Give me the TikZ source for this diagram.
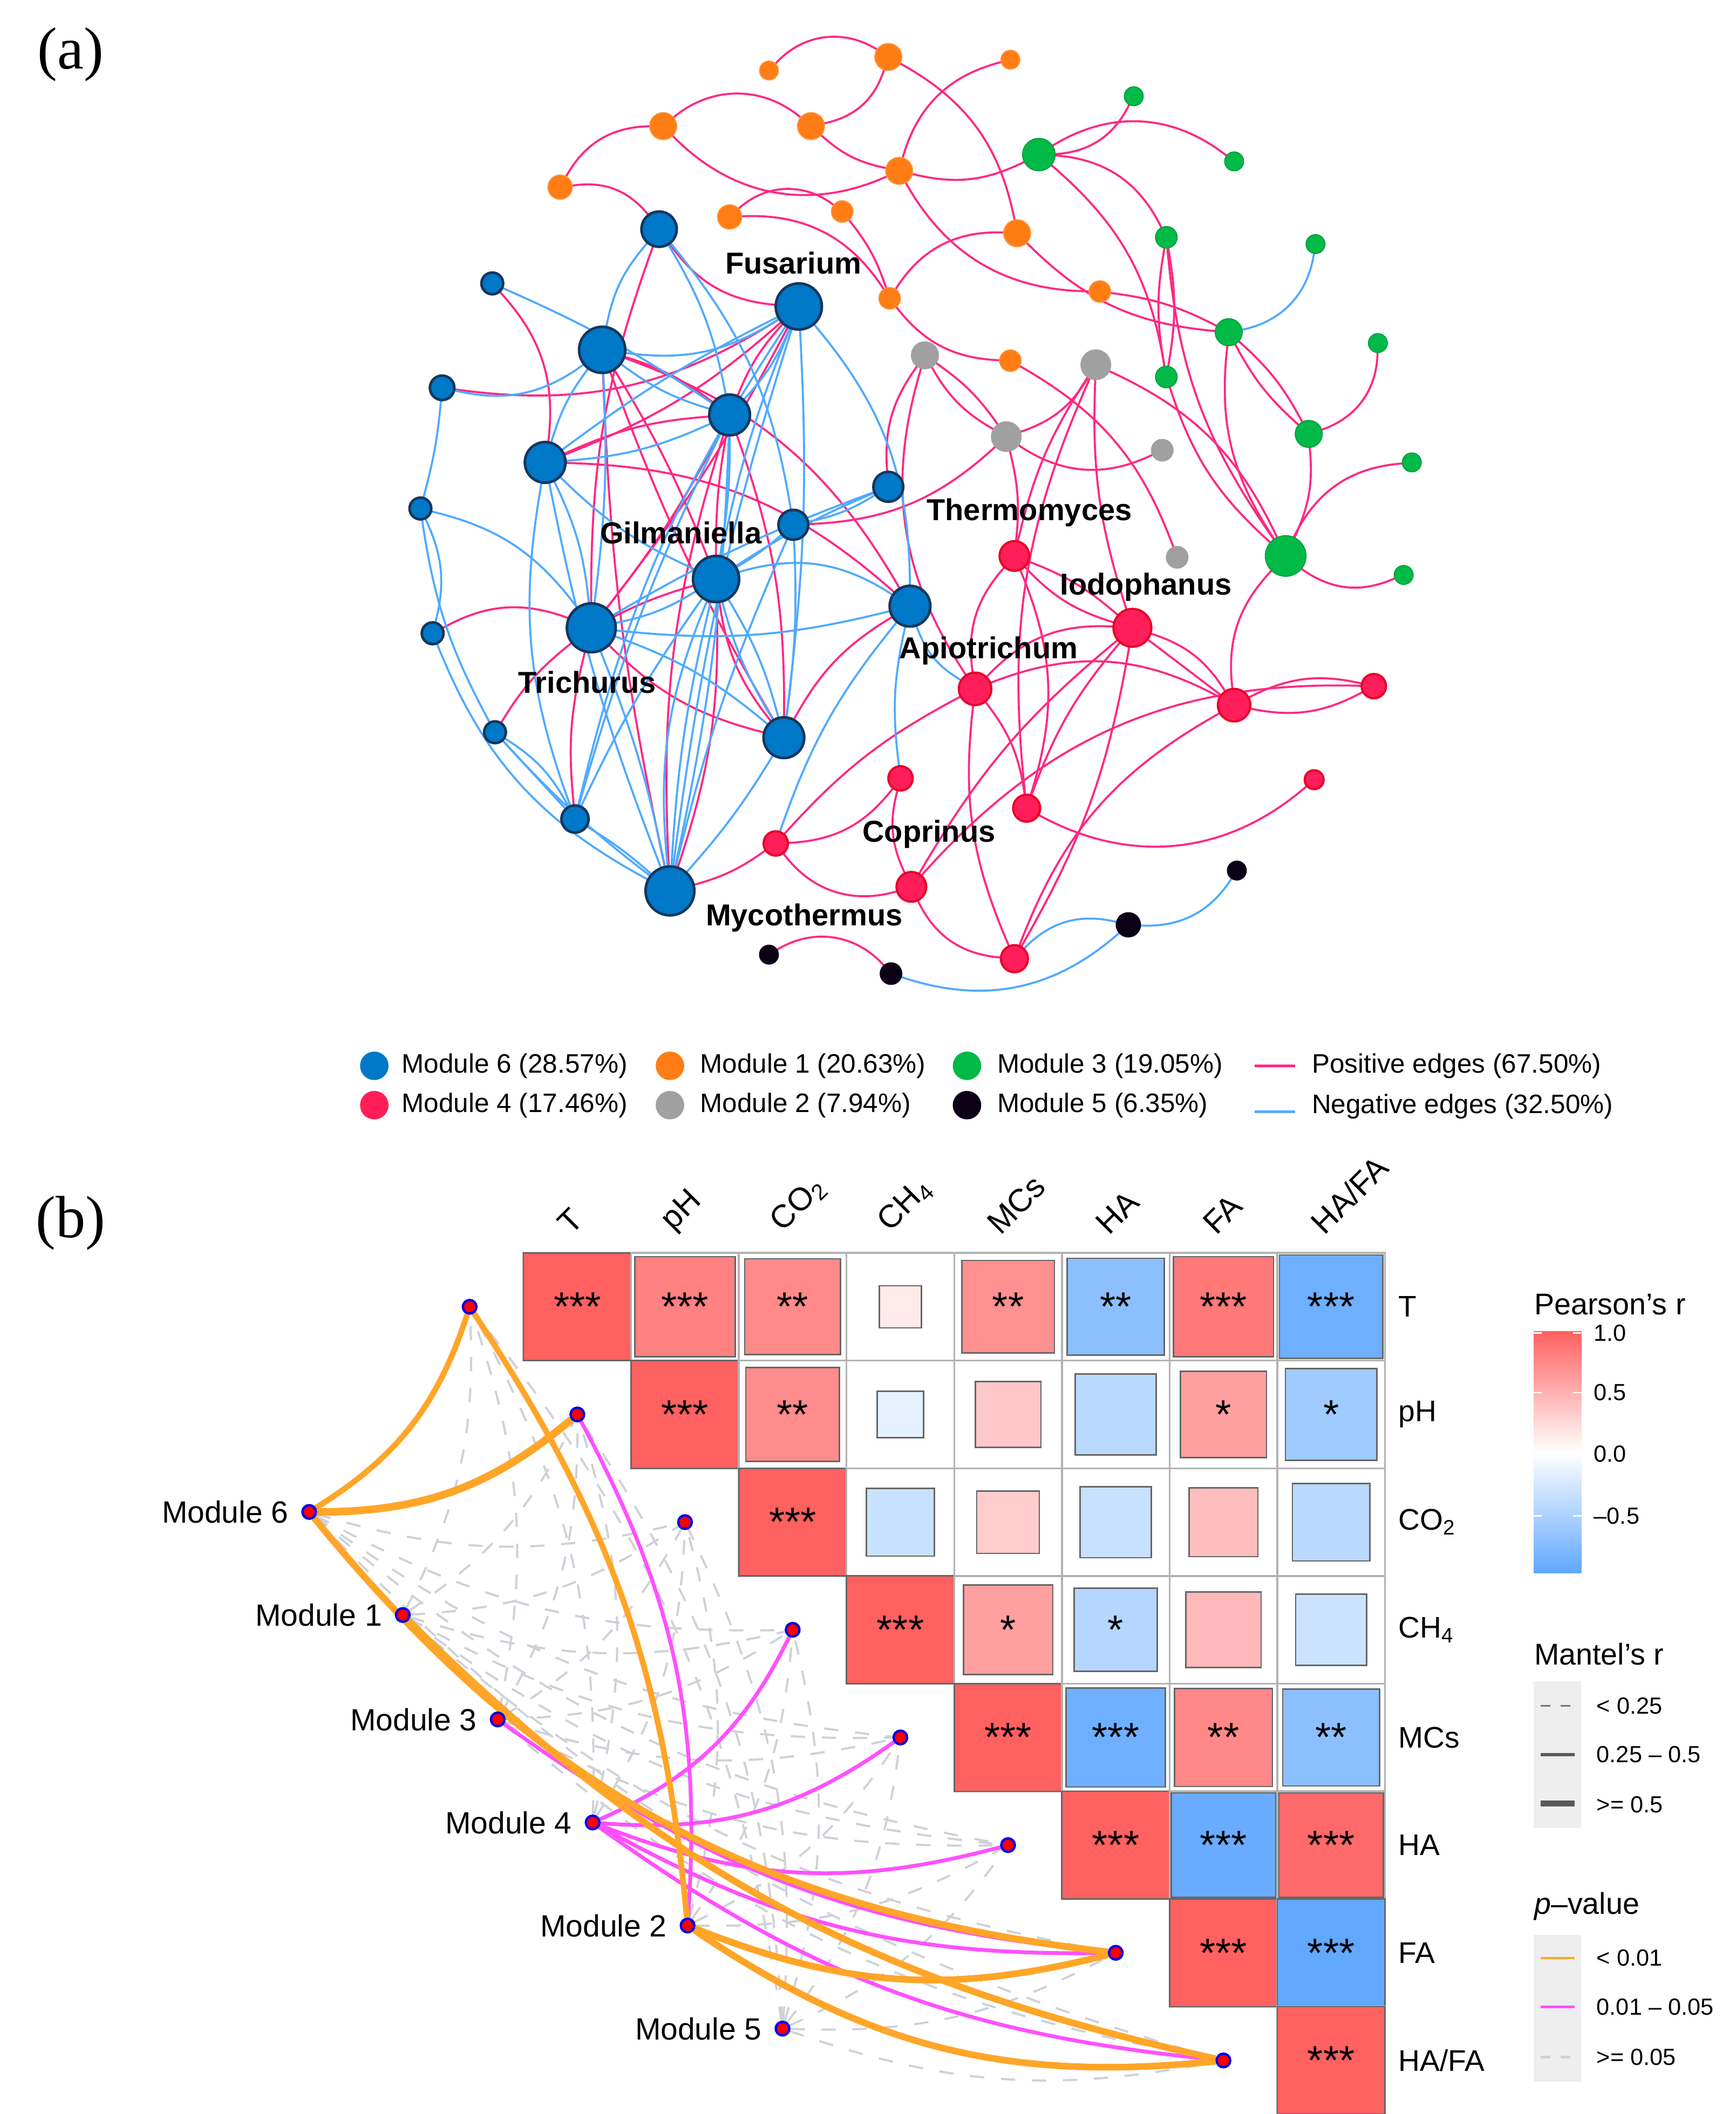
\documentclass[tikz,border=0pt]{standalone}
\usepackage{fontspec}
\setmainfont{Liberation Sans}
\newfontfamily\seriffont{Liberation Serif}
\usetikzlibrary{backgrounds}
\definecolor{cBlue}{RGB}{0,120,200}
\definecolor{cBlueB}{RGB}{22,55,92}
\definecolor{cOrange}{RGB}{255,125,20}
\definecolor{cGreen}{RGB}{0,185,70}
\definecolor{cGrey}{RGB}{160,160,160}
\definecolor{cRed}{RGB}{255,30,90}
\definecolor{cRedB}{RGB}{232,0,40}
\definecolor{cBlack}{RGB}{12,0,22}
\definecolor{ePos}{RGB}{255,40,130}
\definecolor{eNeg}{RGB}{80,170,255}
\definecolor{hR}{RGB}{255,97,97}
\definecolor{hB}{RGB}{97,168,255}
\definecolor{mOr}{RGB}{255,165,40}
\definecolor{mMag}{RGB}{255,80,255}
\definecolor{mGr}{RGB}{206,209,215}
\definecolor{keybg}{RGB}{238,238,238}
\newcommand{\fnet}{\fontsize{12.7}{14}\selectfont\bfseries}
\newcommand{\fleg}{\fontsize{11.2}{13}\selectfont}
\newcommand{\fpan}{\fontsize{25}{28}\selectfont\seriffont}
\newcommand{\fmod}{\fontsize{12.9}{15}\selectfont}
\newcommand{\fvar}{\fontsize{12.5}{15}\selectfont}
\newcommand{\fcol}{\fontsize{13.5}{15}\selectfont}
\newcommand{\fstar}{\fontsize{17}{18}\selectfont}
\newcommand{\fltit}{\fontsize{12.6}{15}\selectfont}
\newcommand{\flkey}{\fontsize{9.8}{12}\selectfont}
\tikzset{
 nb/.style={circle,fill=cBlue,draw=cBlueB,line width=1.1pt,inner sep=0pt,outer sep=0pt},
 no/.style={circle,fill=cOrange,draw=cOrange!80!white,line width=0.4pt,inner sep=0pt,outer sep=0pt},
 ng/.style={circle,fill=cGreen,draw=cGreen!85!black,line width=0.4pt,inner sep=0pt,outer sep=0pt},
 ny/.style={circle,fill=cGrey,draw=cGrey,line width=0.4pt,inner sep=0pt,outer sep=0pt},
 nr/.style={circle,fill=cRed,draw=cRedB,line width=0.9pt,inner sep=0pt,outer sep=0pt},
 nk/.style={circle,fill=cBlack,draw=cBlack,line width=0.4pt,inner sep=0pt,outer sep=0pt},
 pedge/.style={draw=ePos,line width=0.85pt},
 nedge/.style={draw=eNeg,line width=0.85pt},
 netlab/.style={font=\fnet,inner sep=0pt},
 legtxt/.style={font=\fleg,anchor=west,inner sep=0pt},
 gridc/.style={draw=black!30,line width=0.8pt},
 sqc/.style={draw=black!60,line width=0.6pt},
 starsty/.style={font=\fstar,inner sep=0pt},
 varlab/.style={font=\fvar,inner sep=0pt},
 collab/.style={font=\fcol,inner sep=0pt,rotate=45,anchor=south west},
 mpt/.style={circle,fill=red,draw=blue!90!black,line width=1pt,minimum size=0.2cm,inner sep=0pt},
 mgrey/.style={draw=mGr,line width=0.9pt,dash pattern=on 6pt off 7pt},
 morange/.style={draw=mOr},
 mmag/.style={draw=mMag,line width=1.6pt},
 keytxt/.style={font=\flkey,anchor=west,inner sep=0pt},
}
\newcommand{\nn}[5]{\node[#5,minimum size=#4*0.04cm] (#1) at (#2,#3) {};}
\newcommand{\ep}[3]{\draw[pedge] (#1) to[#3] (#2);}
\newcommand{\en}[3]{\draw[nedge] (#1) to[#3] (#2);}
\newcommand{\hcell}[5]{%
  \pgfmathsetmacro{\hcx}{425.7+79.4*#2}%
  \pgfmathsetmacro{\hcy}{963.7+79.4*#1}%
  \pgfmathsetmacro{\hhs}{39.7*#3}%
  \draw[gridc] (\hcx-39.7,\hcy-39.7) rectangle (\hcx+39.7,\hcy+39.7);
  \draw[sqc,fill=#4] (\hcx-\hhs,\hcy-\hhs) rectangle (\hcx+\hhs,\hcy+\hhs);
  \node[starsty] (hc#1#2) at (\hcx,\hcy) {#5};
}
\newcommand{\mg}[2]{\draw[mgrey] (#1) to[bend right=15] (#2);}
\begin{document}
\begin{tikzpicture}[x=0.02cm,y=-0.02cm]
\useasboundingbox (0,0) rectangle (1280,1559);
% ---------------- panel labels
\node[font=\fpan,inner sep=0pt] (pa) at (52,40) {(a)};
\node[font=\fpan,inner sep=0pt] (pb) at (52,902) {(b)};
% ---------------- network nodes
\nn{O1}{567}{52}{7}{no}
\nn{O2}{655}{42}{10}{no}
\nn{O3}{745}{44}{7}{no}
\nn{O4}{489}{93}{10}{no}
\nn{O5}{598}{93}{10}{no}
\nn{O6}{663}{126}{10}{no}
\nn{O7}{413}{138}{9}{no}
\nn{O8}{538}{160}{9}{no}
\nn{O9}{621}{156}{8}{no}
\nn{O10}{750}{172}{10}{no}
\nn{O11}{656}{220}{8}{no}
\nn{O12}{811}{215}{8}{no}
\nn{O13}{745}{266}{8}{no}
\nn{G1}{836}{71}{7}{ng}
\nn{G2}{766}{114}{12}{ng}
\nn{G3}{910}{119}{7}{ng}
\nn{G4}{860}{175}{8}{ng}
\nn{G5}{970}{180}{7}{ng}
\nn{G6}{906}{245}{10}{ng}
\nn{G7}{1016}{253}{7}{ng}
\nn{G8}{860}{278}{8}{ng}
\nn{G9}{965}{320}{10}{ng}
\nn{G10}{1041}{341}{7}{ng}
\nn{G11}{948}{410}{15}{ng}
\nn{G12}{1035}{424}{7}{ng}
\nn{Y1}{682}{262}{10}{ny}
\nn{Y2}{808}{269}{11}{ny}
\nn{Y3}{742}{322}{11}{ny}
\nn{Y4}{857}{332}{8}{ny}
\nn{Y5}{868}{411}{8}{ny}
\nn{B1}{486}{169}{13}{nb}
\nn{B2}{363}{209}{8}{nb}
\nn{B3}{589}{226}{17}{nb}
\nn{B4}{444}{258}{17}{nb}
\nn{B5}{326}{286}{9}{nb}
\nn{B6}{538}{306}{15}{nb}
\nn{B7}{402}{341}{15}{nb}
\nn{B8}{655}{359}{11}{nb}
\nn{B9}{310}{375}{8}{nb}
\nn{B10}{585}{387}{11}{nb}
\nn{B11}{528}{427}{17}{nb}
\nn{B12}{319}{467}{8}{nb}
\nn{B13}{436}{463}{18}{nb}
\nn{B14}{671}{447}{15}{nb}
\nn{B15}{578}{544}{15}{nb}
\nn{B16}{365}{540}{8}{nb}
\nn{B17}{424}{604}{10}{nb}
\nn{B18}{494}{657}{18}{nb}
\nn{R1}{748}{410}{11}{nr}
\nn{R2}{835}{463}{14}{nr}
\nn{R3}{719}{508}{12}{nr}
\nn{R4}{910}{520}{12}{nr}
\nn{R5}{1013}{506}{9}{nr}
\nn{R6}{664}{574}{9}{nr}
\nn{R7}{969}{575}{7}{nr}
\nn{R8}{757}{596}{10}{nr}
\nn{R9}{572}{622}{9}{nr}
\nn{R10}{672}{654}{11}{nr}
\nn{R11}{748}{707}{10}{nr}
\nn{K1}{912}{642}{7}{nk}
\nn{K2}{832}{682}{9}{nk}
\nn{K3}{567}{704}{7}{nk}
\nn{K4}{657}{718}{8}{nk}
% ---------------- network edges
\begin{pgfonlayer}{background}
\ep{O1}{O2}{bend left=40}
\ep{O2}{O5}{bend left=30}
\ep{O2}{O10}{bend left=25}
\ep{O3}{O6}{bend right=30}
\ep{O4}{O5}{bend left=40}
\ep{O4}{O7}{bend right=30}
\ep{O4}{O6}{bend right=35}
\ep{O5}{O6}{bend right=15}
\ep{O6}{G2}{bend right=20}
\ep{O6}{O12}{bend right=30}
\ep{O7}{B1}{bend left=30}
\ep{O8}{O9}{bend left=40}
\ep{O8}{O11}{bend left=30}
\ep{O9}{O11}{bend left=10}
\ep{O11}{O10}{bend left=30}
\ep{O11}{O13}{bend right=25}
\ep{O10}{G6}{bend right=20}
\ep{O12}{G6}{bend left=10}
\ep{O13}{Y5}{bend left=20}
\ep{G1}{G2}{bend left=30}
\ep{G2}{G3}{bend left=35}
\ep{G2}{G4}{bend left=30}
\ep{G2}{G8}{bend left=20}
\ep{G4}{G8}{bend left=10}
\ep{G4}{G8}{bend right=10}
\ep{G4}{G11}{bend right=15}
\ep{G8}{G11}{bend right=15}
\ep{G6}{G9}{bend left=10}
\ep{G6}{G9}{bend right=10}
\ep{G6}{G11}{bend right=20}
\ep{G7}{G9}{bend left=35}
\ep{G9}{G11}{bend left=15}
\ep{G10}{G11}{bend right=30}
\ep{G12}{G11}{bend left=30}
\ep{Y2}{G11}{bend left=20}
\ep{R4}{G11}{bend left=25}
\ep{Y1}{Y3}{bend left=10}
\ep{Y1}{Y3}{bend right=15}
\ep{Y2}{Y3}{bend left=20}
\ep{Y3}{Y4}{bend right=30}
\ep{Y3}{R1}{bend left=10}
\ep{Y3}{B10}{bend left=20}
\ep{Y2}{R1}{bend right=10}
\ep{Y2}{R2}{bend right=10}
\ep{Y2}{R8}{bend right=15}
\ep{Y1}{R3}{bend right=25}
\ep{Y1}{B8}{bend right=20}
\ep{R1}{R2}{bend left=10}
\ep{R1}{R2}{bend right=15}
\ep{R1}{R3}{bend right=25}
\ep{R1}{R8}{bend left=20}
\ep{R2}{R3}{bend right=25}
\ep{R2}{R4}{bend left=20}
\ep{R2}{R4}{bend left=0}
\ep{R2}{R8}{bend right=10}
\ep{R2}{R10}{bend right=10}
\ep{R2}{R11}{bend left=10}
\ep{R3}{R4}{bend left=25}
\ep{R3}{R8}{bend left=15}
\ep{R3}{R11}{bend right=15}
\ep{R4}{R5}{bend left=20}
\ep{R4}{R5}{bend right=20}
\ep{R5}{R10}{bend right=25}
\ep{R4}{R11}{bend right=20}
\ep{R6}{R10}{bend right=20}
\ep{R6}{R9}{bend left=25}
\ep{R8}{R7}{bend right=35}
\ep{R10}{R11}{bend right=30}
\ep{R9}{R10}{bend right=35}
\ep{R9}{B18}{bend left=10}
\ep{R9}{R3}{bend left=10}
\ep{K3}{K4}{bend left=40}
\ep{B1}{B3}{bend right=25}
\ep{B1}{B13}{bend right=10}
\ep{B2}{B7}{bend left=25}
\ep{B3}{B5}{bend left=20}
\ep{B3}{B6}{bend right=10}
\ep{B3}{B7}{bend left=10}
\ep{B3}{B13}{bend left=5}
\ep{B4}{B6}{bend left=10}
\ep{B4}{B11}{bend left=5}
\ep{B4}{B15}{bend right=5}
\ep{B4}{B18}{bend right=5}
\ep{B4}{B14}{bend left=20}
\ep{B6}{B7}{bend right=10}
\ep{B6}{B11}{bend right=5}
\ep{B6}{B13}{bend left=5}
\ep{B6}{B15}{bend left=10}
\ep{B6}{B18}{bend right=10}
\ep{B7}{B14}{bend left=20}
\ep{B12}{B13}{bend left=25}
\ep{B13}{B11}{bend left=5}
\ep{B13}{B15}{bend right=15}
\ep{B13}{B16}{bend right=10}
\ep{B13}{B17}{bend right=10}
\ep{B11}{B15}{bend right=15}
\ep{B11}{B18}{bend left=10}
\ep{B14}{B15}{bend right=15}
\en{G5}{G6}{bend left=35}
\en{R3}{B14}{bend left=20}
\en{R6}{B14}{bend left=10}
\en{R9}{B14}{bend left=10}
\en{R11}{K2}{bend left=30}
\en{K1}{K2}{bend left=30}
\en{K4}{K2}{bend right=30}
\en{B1}{B4}{bend right=15}
\en{B1}{B6}{bend left=10}
\en{B1}{B10}{bend left=15}
\en{B2}{B6}{bend left=5}
\en{B3}{B4}{bend left=20}
\en{B3}{B6}{bend left=10}
\en{B3}{B11}{bend right=5}
\en{B3}{B15}{bend left=5}
\en{B3}{B18}{bend right=5}
\en{B3}{B14}{bend left=20}
\en{B3}{B17}{bend right=10}
\en{B3}{B7}{bend right=5}
\en{B4}{B5}{bend left=25}
\en{B4}{B6}{bend right=10}
\en{B4}{B7}{bend right=10}
\en{B4}{B13}{bend left=5}
\en{B5}{B9}{bend left=5}
\en{B6}{B7}{bend left=10}
\en{B6}{B11}{bend left=5}
\en{B6}{B18}{bend left=5}
\en{B6}{B17}{bend right=5}
\en{B7}{B13}{bend left=10}
\en{B7}{B17}{bend right=15}
\en{B7}{B11}{bend right=10}
\en{B7}{B18}{bend right=5}
\en{B9}{B12}{bend left=20}
\en{B9}{B16}{bend right=10}
\en{B9}{B13}{bend left=20}
\en{B12}{B18}{bend right=20}
\en{B13}{B11}{bend right=10}
\en{B13}{B14}{bend right=10}
\en{B13}{B15}{bend left=10}
\en{B13}{B18}{bend left=5}
\en{B11}{B10}{bend right=5}
\en{B11}{B8}{bend left=5}
\en{B11}{B14}{bend left=25}
\en{B11}{B15}{bend left=8}
\en{B11}{B15}{bend right=8}
\en{B11}{B18}{bend right=5}
\en{B11}{B18}{bend right=14}
\en{B11}{B17}{bend right=5}
\en{B10}{B8}{bend right=10}
\en{B10}{B18}{bend right=5}
\en{B10}{B15}{bend left=5}
\en{B8}{B13}{bend right=5}
\en{B16}{B17}{bend left=0}
\en{B16}{B17}{bend left=15}
\en{B16}{B18}{bend right=5}
\en{B17}{B18}{bend left=5}
\en{B15}{B18}{bend left=5}
\end{pgfonlayer}
% ---------------- network labels
\node[netlab] (lFus) at (585,194) {Fusarium};
\node[netlab] (lGil) at (502,393) {Gilmaniella};
\node[netlab] (lThe) at (759,378) {Thermomyces};
\node[netlab] (lIod) at (845,433) {Iodophanus};
\node[netlab] (lTri) at (433,503) {Trichurus};
\node[netlab] (lApi) at (729,480) {Apiotrichum};
\node[netlab] (lCop) at (685,615) {Coprinus};
\node[netlab] (lMyc) at (593,677) {Mycothermus};
% ---------------- legend (a)
\node[circle,fill=cBlue,minimum size=0.42cm,inner sep=0pt] (lg6) at (276,786) {};
\node[circle,fill=cRed,minimum size=0.42cm,inner sep=0pt] (lg4) at (276,815) {};
\node[circle,fill=cOrange,minimum size=0.42cm,inner sep=0pt] (lg1) at (494,786) {};
\node[circle,fill=cGrey,minimum size=0.42cm,inner sep=0pt] (lg2) at (494,815) {};
\node[circle,fill=cGreen,minimum size=0.42cm,inner sep=0pt] (lg3) at (713,786) {};
\node[circle,fill=cBlack,minimum size=0.42cm,inner sep=0pt] (lg5) at (713,815) {};
\node[legtxt] (lt6) at (296,786) {Module 6 (28.57\%)};
\node[legtxt] (lt4) at (296,815) {Module 4 (17.46\%)};
\node[legtxt] (lt1) at (516,786) {Module 1 (20.63\%)};
\node[legtxt] (lt2) at (516,815) {Module 2 (7.94\%)};
\node[legtxt] (lt3) at (735,786) {Module 3 (19.05\%)};
\node[legtxt] (lt5) at (735,815) {Module 5 (6.35\%)};
\coordinate (lpa) at (925,786); \coordinate (lpb) at (955,786);
\coordinate (lna) at (925,820); \coordinate (lnb) at (955,820);
\draw[pedge,line width=1.2pt] (lpa) -- (lpb);
\draw[nedge,line width=1.2pt] (lna) -- (lnb);
\node[legtxt] (ltp) at (967,786) {Positive edges (67.50\%)};
\node[legtxt] (ltn) at (967,816) {Negative edges (32.50\%)};
% ---------------- heatmap (b)
\hcell{0}{0}{1}{hR}{***}
\hcell{0}{1}{0.93}{hR!80!white}{***}
\hcell{0}{2}{0.89}{hR!74!white}{**}
\hcell{0}{3}{0.39}{hR!13!white}{}
\hcell{0}{4}{0.86}{hR!70!white}{**}
\hcell{0}{5}{0.9}{hB!73!white}{**}
\hcell{0}{6}{0.93}{hR!85!white}{***}
\hcell{0}{7}{0.96}{hB!92!white}{***}
\hcell{1}{1}{1}{hR}{***}
\hcell{1}{2}{0.87}{hR!73!white}{**}
\hcell{1}{3}{0.43}{hB!16!white}{}
\hcell{1}{4}{0.61}{hR!35!white}{}
\hcell{1}{5}{0.75}{hB!44!white}{}
\hcell{1}{6}{0.8}{hR!60!white}{*}
\hcell{1}{7}{0.85}{hB!60!white}{*}
\hcell{2}{2}{1}{hR}{***}
\hcell{2}{3}{0.63}{hB!35!white}{}
\hcell{2}{4}{0.58}{hR!32!white}{}
\hcell{2}{5}{0.66}{hB!35!white}{}
\hcell{2}{6}{0.64}{hR!41!white}{}
\hcell{2}{7}{0.72}{hB!44!white}{}
\hcell{3}{3}{1}{hR}{***}
\hcell{3}{4}{0.83}{hR!60!white}{*}
\hcell{3}{5}{0.77}{hB!47!white}{*}
\hcell{3}{6}{0.7}{hR!44!white}{}
\hcell{3}{7}{0.66}{hB!32!white}{}
\hcell{4}{4}{1}{hR}{***}
\hcell{4}{5}{0.92}{hB!92!white}{***}
\hcell{4}{6}{0.91}{hR!76!white}{**}
\hcell{4}{7}{0.9}{hB!73!white}{**}
\hcell{5}{5}{1}{hR}{***}
\hcell{5}{6}{0.97}{hB!95!white}{***}
\hcell{5}{7}{0.97}{hR!95!white}{***}
\hcell{6}{6}{1}{hR}{***}
\hcell{6}{7}{1}{hB}{***}
\hcell{7}{7}{1}{hR}{***}
% column labels
\node[collab] (cT) at (421,912) {T};
\node[collab] (cpH) at (500,912) {pH};
\node[collab] (cCO) at (580,912) {CO\textsubscript{2}};
\node[collab] (cCH) at (659,912) {CH\textsubscript{4}};
\node[collab] (cMC) at (738,912) {MCs};
\node[collab] (cHA) at (818,912) {HA};
\node[collab] (cFA) at (897,912) {FA};
\node[collab] (cHF) at (977,912) {HA/FA};
% row labels
\node[varlab,anchor=west] (rT) at (1031,963.7) {T};
\node[varlab,anchor=west] (rpH) at (1031,1043.1) {pH};
\node[varlab,anchor=west] (rCO) at (1031,1122.5) {CO\textsubscript{2}};
\node[varlab,anchor=west] (rCH) at (1031,1201.9) {CH\textsubscript{4}};
\node[varlab,anchor=west] (rMC) at (1031,1281.3) {MCs};
\node[varlab,anchor=west] (rHA) at (1031,1360.7) {HA};
\node[varlab,anchor=west] (rFA) at (1031,1440.1) {FA};
\node[varlab,anchor=west] (rHF) at (1031,1519.5) {HA/FA};
% ---------------- mantel points
\node[mpt] (eT) at (346.3,963.7) {};
\node[mpt] (epH) at (425.7,1043.1) {};
\node[mpt] (eCO) at (505.1,1122.5) {};
\node[mpt] (eCH) at (584.5,1201.9) {};
\node[mpt] (eMC) at (663.9,1281.3) {};
\node[mpt] (eHA) at (743.3,1360.7) {};
\node[mpt] (eFA) at (822.7,1440.1) {};
\node[mpt] (eHF) at (902.1,1519.5) {};
\node[mpt] (m6) at (228,1115) {};
\node[mpt] (m1) at (297,1191) {};
\node[mpt] (m3) at (367,1268) {};
\node[mpt] (m4) at (437,1344) {};
\node[mpt] (m2) at (507,1420) {};
\node[mpt] (m5) at (577,1496) {};
\node[font=\fmod,anchor=east,inner sep=0pt] (lm6) at (213,1115) {Module 6};
\node[font=\fmod,anchor=east,inner sep=0pt] (lm1) at (282,1191) {Module 1};
\node[font=\fmod,anchor=east,inner sep=0pt] (lm3) at (352,1268) {Module 3};
\node[font=\fmod,anchor=east,inner sep=0pt] (lm4) at (422,1344) {Module 4};
\node[font=\fmod,anchor=east,inner sep=0pt] (lm2) at (492,1420) {Module 2};
\node[font=\fmod,anchor=east,inner sep=0pt] (lm5) at (562,1496) {Module 5};
\begin{pgfonlayer}{background}
\mg{m6}{eCO}\mg{m6}{eCH}\mg{m6}{eMC}\mg{m6}{eHA}\mg{m6}{eHF}
\mg{m1}{eT}\mg{m1}{epH}\mg{m1}{eCO}\mg{m1}{eCH}\mg{m1}{eMC}\mg{m1}{eHA}\mg{m1}{eFA}
\mg{m3}{eT}\mg{m3}{epH}\mg{m3}{eCO}\mg{m3}{eCH}\mg{m3}{eMC}\mg{m3}{eHA}\mg{m3}{eHF}
\mg{m4}{eT}\mg{m4}{epH}\mg{m4}{eCO}
\mg{m2}{eCO}\mg{m2}{eCH}\mg{m2}{eMC}\mg{m2}{eHA}
\mg{m5}{eT}\mg{m5}{epH}\mg{m5}{eCO}\mg{m5}{eCH}\mg{m5}{eMC}\mg{m5}{eHA}\mg{m5}{eFA}\mg{m5}{eHF}
\draw[mmag] (m3) to[bend right=15] (eFA);
\draw[mmag] (m4) to[bend right=20] (eCH);
\draw[mmag] (m4) to[bend right=20] (eMC);
\draw[mmag] (m4) to[bend right=18] (eHA);
\draw[mmag] (m4) to[bend right=15] (eFA);
\draw[mmag] (m4) to[bend right=15] (eHF);
\draw[mmag] (m2) to[bend right=16] (epH);
\draw[morange,line width=2.4pt] (m6) to[bend right=20] (eT);
\draw[morange,line width=3.2pt] (m6) to[bend right=20] (epH);
\draw[morange,line width=2.4pt] (m2) to[bend right=14] (eT);
\draw[morange,line width=2.8pt] (m6) to[bend right=22] (eFA);
\draw[morange,line width=2.8pt] (m1) to[bend right=16] (eHF);
\draw[morange,line width=2.8pt] (m2) to[bend right=18] (eFA);
\draw[morange,line width=2.8pt] (m2) to[bend right=20] (eHF);
\end{pgfonlayer}
% ---------------- legend (b)
\node[font=\fltit,anchor=west,inner sep=0pt] (tPr) at (1131,962) {Pearson's r};
\shade[top color=hR,bottom color=hB,middle color=white] (1131,982) rectangle (1166,1160);
\foreach \ty in {983,1027,1072,1118}{
  \draw[white,line width=0.6pt] (1131,\ty) -- (1137,\ty);
  \draw[white,line width=0.6pt] (1160,\ty) -- (1166,\ty);
}
\node[keytxt] (k10) at (1175,983) {1.0};
\node[keytxt] (k05) at (1175,1027) {0.5};
\node[keytxt] (k00) at (1175,1072) {0.0};
\node[keytxt] (km05) at (1175,1118) {–0.5};
\node[font=\fltit,anchor=west,inner sep=0pt] (tMr) at (1131,1220) {Mantel's r};
\fill[keybg] (1131,1240) rectangle (1166,1348);
\coordinate (ka1) at (1136,1258); \coordinate (kb1) at (1161,1258);
\coordinate (ka2) at (1136,1294); \coordinate (kb2) at (1161,1294);
\coordinate (ka3) at (1136,1330); \coordinate (kb3) at (1161,1330);
\draw[black!55,line width=0.7pt,dash pattern=on 4pt off 4.5pt] (ka1) -- (kb1);
\draw[black!65,line width=1.3pt] (ka2) -- (kb2);
\draw[black!65,line width=2.6pt] (ka3) -- (kb3);
\node[keytxt] (kt1) at (1177,1258) {< 0.25};
\node[keytxt] (kt2) at (1177,1294) {0.25 – 0.5};
\node[keytxt] (kt3) at (1177,1331) {>= 0.5};
\node[font=\fltit,anchor=west,inner sep=0pt] (tPv) at (1131,1406) {\textit{p}–value};
\fill[keybg] (1131,1427) rectangle (1166,1535);
\coordinate (kc1) at (1136,1444); \coordinate (kd1) at (1161,1444);
\coordinate (kc2) at (1136,1480); \coordinate (kd2) at (1161,1480);
\coordinate (kc3) at (1136,1517); \coordinate (kd3) at (1161,1517);
\draw[mOr,line width=1pt] (kc1) -- (kd1);
\draw[mMag,line width=1pt] (kc2) -- (kd2);
\draw[mGr,line width=1pt,dash pattern=on 4pt off 4.5pt] (kc3) -- (kd3);
\node[keytxt] (kt4) at (1177,1444) {< 0.01};
\node[keytxt] (kt5) at (1177,1480) {0.01 – 0.05};
\node[keytxt] (kt6) at (1177,1517) {>= 0.05};
\end{tikzpicture}
\end{document}
